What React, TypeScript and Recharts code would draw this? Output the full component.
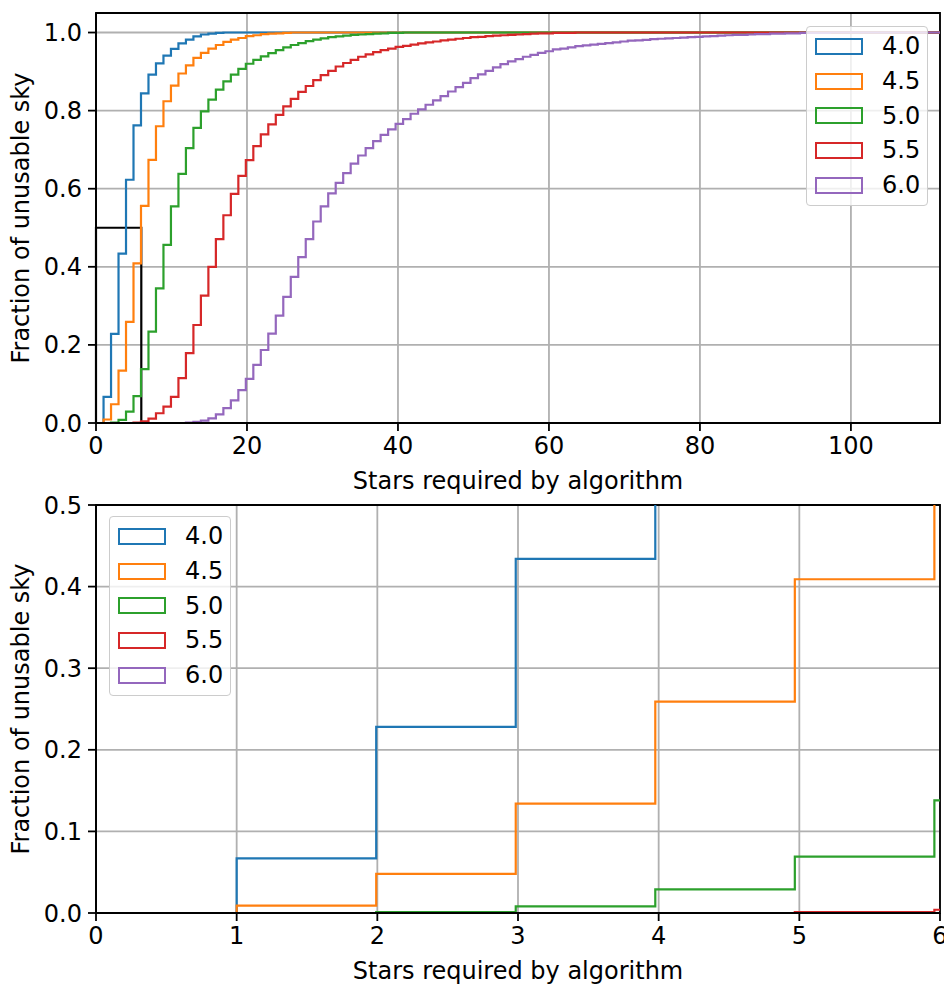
import { LineChart, Line, XAxis, YAxis, CartesianGrid, ReferenceArea, Legend, Label } from "recharts";

// cumulative fraction of unusable sky, one value per star count (1, 2, 3, ...)
const magnitudes = ["4.0", "4.5", "5.0", "5.5", "6.0"];
const colors = ["#1f77b4", "#ff7f0e", "#2ca02c", "#d62728", "#9467bd"];

const mag40 = [0.067, 0.228, 0.434, 0.623, 0.762, 0.844, 0.892, 0.921, 0.941, 0.958, 0.972, 0.982, 0.99, 0.995, 0.997, 0.999];
const mag45 = [
  0.009, 0.048, 0.134, 0.259, 0.409, 0.556, 0.674, 0.76, 0.824, 0.864, 0.895, 0.916, 0.935, 0.948, 0.959, 0.968, 0.976,
  0.982, 0.986, 0.991, 0.993, 0.996, 0.997, 0.998, 0.999,
];
const mag50 = [
  0, 0.001, 0.008, 0.029, 0.069, 0.138, 0.234, 0.345, 0.456, 0.555, 0.638, 0.704, 0.756, 0.798, 0.828, 0.854, 0.875,
  0.892, 0.907, 0.92, 0.93, 0.939, 0.947, 0.955, 0.962, 0.968, 0.973, 0.978, 0.982, 0.985, 0.988, 0.99, 0.992, 0.994,
  0.995, 0.996, 0.997, 0.998, 0.999, 0.999,
];
const mag55 = [
  0, 0, 0, 0, 0.001, 0.004, 0.011, 0.025, 0.042, 0.067, 0.115, 0.179, 0.251, 0.326, 0.4, 0.471, 0.532, 0.587, 0.633,
  0.673, 0.709, 0.739, 0.765, 0.789, 0.811, 0.83, 0.848, 0.863, 0.878, 0.891, 0.902, 0.913, 0.922, 0.93, 0.938, 0.944,
  0.95, 0.955, 0.959, 0.963, 0.966, 0.969, 0.972, 0.975, 0.977, 0.98, 0.982, 0.984, 0.986, 0.988, 0.989, 0.991, 0.992,
  0.993, 0.994, 0.995, 0.996, 0.997, 0.998, 0.998, 0.999, 0.999, 0.999,
];
const mag60 = [
  0, 0, 0, 0, 0, 0, 0, 0, 0, 0, 0, 0.001, 0.003, 0.006, 0.012, 0.022, 0.038, 0.058, 0.084, 0.113, 0.149, 0.187, 0.229,
  0.275, 0.323, 0.374, 0.425, 0.471, 0.516, 0.555, 0.588, 0.615, 0.64, 0.664, 0.685, 0.704, 0.722, 0.738, 0.752, 0.766,
  0.778, 0.792, 0.803, 0.815, 0.826, 0.837, 0.849, 0.86, 0.871, 0.883, 0.893, 0.902, 0.911, 0.919, 0.926, 0.932, 0.938,
  0.943, 0.948, 0.952, 0.957, 0.959, 0.962, 0.965, 0.967, 0.969, 0.971, 0.973, 0.975, 0.977, 0.979, 0.98, 0.981, 0.983,
  0.984, 0.985, 0.986, 0.987, 0.988, 0.989, 0.99, 0.991, 0.992, 0.993, 0.994, 0.994, 0.995, 0.996, 0.996, 0.997, 0.997,
  0.998, 0.998, 0.999, 0.999, 0.999, 0.999,
];
const seriesValues = [mag40, mag45, mag50, mag55, mag60];

const binStart = 1;
const binWidth = 0.992;
const binCount = 112;

const topXTicks = [0, 20, 40, 60, 80, 100];
const topYTicks = [0, 0.2, 0.4, 0.6, 0.8, 1.0];
const topXDomain = [0, 111.8];
const topYDomain = [0, 1.05];

// bottom panel = zoom box drawn on the top panel
const zoomXTicks = [0, 1, 2, 3, 4, 5, 6];
const zoomYTicks = [0, 0.1, 0.2, 0.3, 0.4, 0.5];
const zoomXDomain = [0, 6];
const zoomYDomain = [0, 0.5];

type Row = { x: number; [key: string]: number };

const rows: Row[] = [];
{
  const first: Row = { x: binStart };
  seriesValues.forEach((_, i) => (first[`m${i}`] = 0));
  rows.push(first);
  for (let k = 0; k <= binCount; k++) {
    const r: Row = { x: binStart + k * binWidth };
    seriesValues.forEach((vals, i) => (r[`m${i}`] = vals[Math.min(k, binCount - 1)] ?? 1));
    rows.push(r);
  }
}

const FONT = 24;
const axisStyle = { stroke: "#000", strokeWidth: 1.8 };
const tickStyle = { fontSize: FONT, fill: "#000" };

const xLabel = (props: any) => {
  const vb = props.viewBox;
  return (
    <text x={vb.x + vb.width / 2} y={vb.y + 58} textAnchor="middle" dominantBaseline="central" fontSize={FONT} fill="#000">
      Stars required by algorithm
    </text>
  );
};

const yLabel = (props: any) => {
  const vb = props.viewBox;
  const cy = vb.y + vb.height / 2;
  return (
    <text
      x={21}
      y={cy}
      transform={`rotate(-90 21 ${cy})`}
      textAnchor="middle"
      dominantBaseline="central"
      fontSize={FONT}
      fill="#000"
    >
      Fraction of unusable sky
    </text>
  );
};

const renderLegend = (props: any) => (
  <div
    style={{
      border: "1.5px solid #cccccc",
      borderRadius: 4,
      background: "rgba(255,255,255,0.8)",
      padding: "2px 7px 3px 8px",
    }}
  >
    {(props.payload || []).map((p: any) => (
      <div key={p.value} style={{ display: "flex", alignItems: "center", height: 34.7 }}>
        <span
          style={{
            display: "inline-block",
            width: 48,
            height: 17,
            border: `2.2px solid ${p.color}`,
            boxSizing: "border-box",
            marginRight: 19,
          }}
        />
        <span style={{ fontSize: FONT, lineHeight: 1, color: "#000" }}>{p.value}</span>
      </div>
    ))}
  </div>
);

function Panel(props: {
  height: number;
  bottom: number;
  xDomain: number[];
  yDomain: number[];
  xTicks: number[];
  yTicks: number[];
  legendPos: { left: number; top: number };
  showZoomBox?: boolean;
}) {
  const { xDomain, yDomain } = props;
  return (
    <LineChart
      width={944}
      height={props.height}
      data={rows}
      margin={{ top: 13, right: 4, left: 0, bottom: props.bottom }}
    >
      <CartesianGrid stroke="#b0b0b0" strokeWidth={1.8} />
      <XAxis
        type="number"
        dataKey="x"
        domain={xDomain}
        ticks={props.xTicks}
        allowDataOverflow
        interval={0}
        height={70}
        axisLine={axisStyle}
        tickLine={axisStyle}
        tickSize={8}
        tickMargin={6}
        tick={tickStyle}
      >
        <Label content={xLabel} />
      </XAxis>
      <YAxis
        type="number"
        domain={yDomain}
        ticks={props.yTicks}
        allowDataOverflow
        interval={0}
        width={96}
        axisLine={axisStyle}
        tickLine={axisStyle}
        tickSize={8}
        tickMargin={6}
        tick={tickStyle}
        tickFormatter={(v: number) => v.toFixed(1)}
      >
        <Label content={yLabel} />
      </YAxis>
      {magnitudes.map((m, i) => (
        <Line
          key={m}
          type="stepAfter"
          dataKey={`m${i}`}
          name={m}
          stroke={colors[i]}
          strokeWidth={2.2}
          dot={false}
          activeDot={false}
          isAnimationActive={false}
        />
      ))}
      {props.showZoomBox && (
        <ReferenceArea
          x1={zoomXDomain[0]}
          x2={zoomXDomain[1]}
          y1={zoomYDomain[0]}
          y2={zoomYDomain[1]}
          fill="none"
          stroke="#000"
          strokeWidth={2.2}
        />
      )}
      <ReferenceArea x1={xDomain[0]} x2={xDomain[1]} y1={yDomain[0]} y2={yDomain[1]} fill="none" stroke="#000" strokeWidth={1.8} />
      <Legend
        layout="vertical"
        align="center"
        verticalAlign="middle"
        wrapperStyle={{ left: props.legendPos.left, top: props.legendPos.top, width: "auto" }}
        content={renderLegend}
      />
    </LineChart>
  );
}

export default function App() {
  return (
    <div
      style={{
        position: "absolute",
        left: 0,
        top: 0,
        width: 944,
        height: 987,
        background: "#fff",
        fontFamily: '"DejaVu Sans", sans-serif',
      }}
    >
      <div style={{ position: "absolute", left: 0, top: 0 }}>
        <Panel
          height={500}
          bottom={7}
          xDomain={topXDomain}
          yDomain={topYDomain}
          xTicks={topXTicks}
          yTicks={topYTicks}
          legendPos={{ left: 806, top: 26 }}
          showZoomBox
        />
      </div>
      <div style={{ position: "absolute", left: 0, top: 492 }}>
        <Panel
          height={495}
          bottom={4}
          xDomain={zoomXDomain}
          yDomain={zoomYDomain}
          xTicks={zoomXTicks}
          yTicks={zoomYTicks}
          legendPos={{ left: 109, top: 24 }}
        />
      </div>
    </div>
  );
}
